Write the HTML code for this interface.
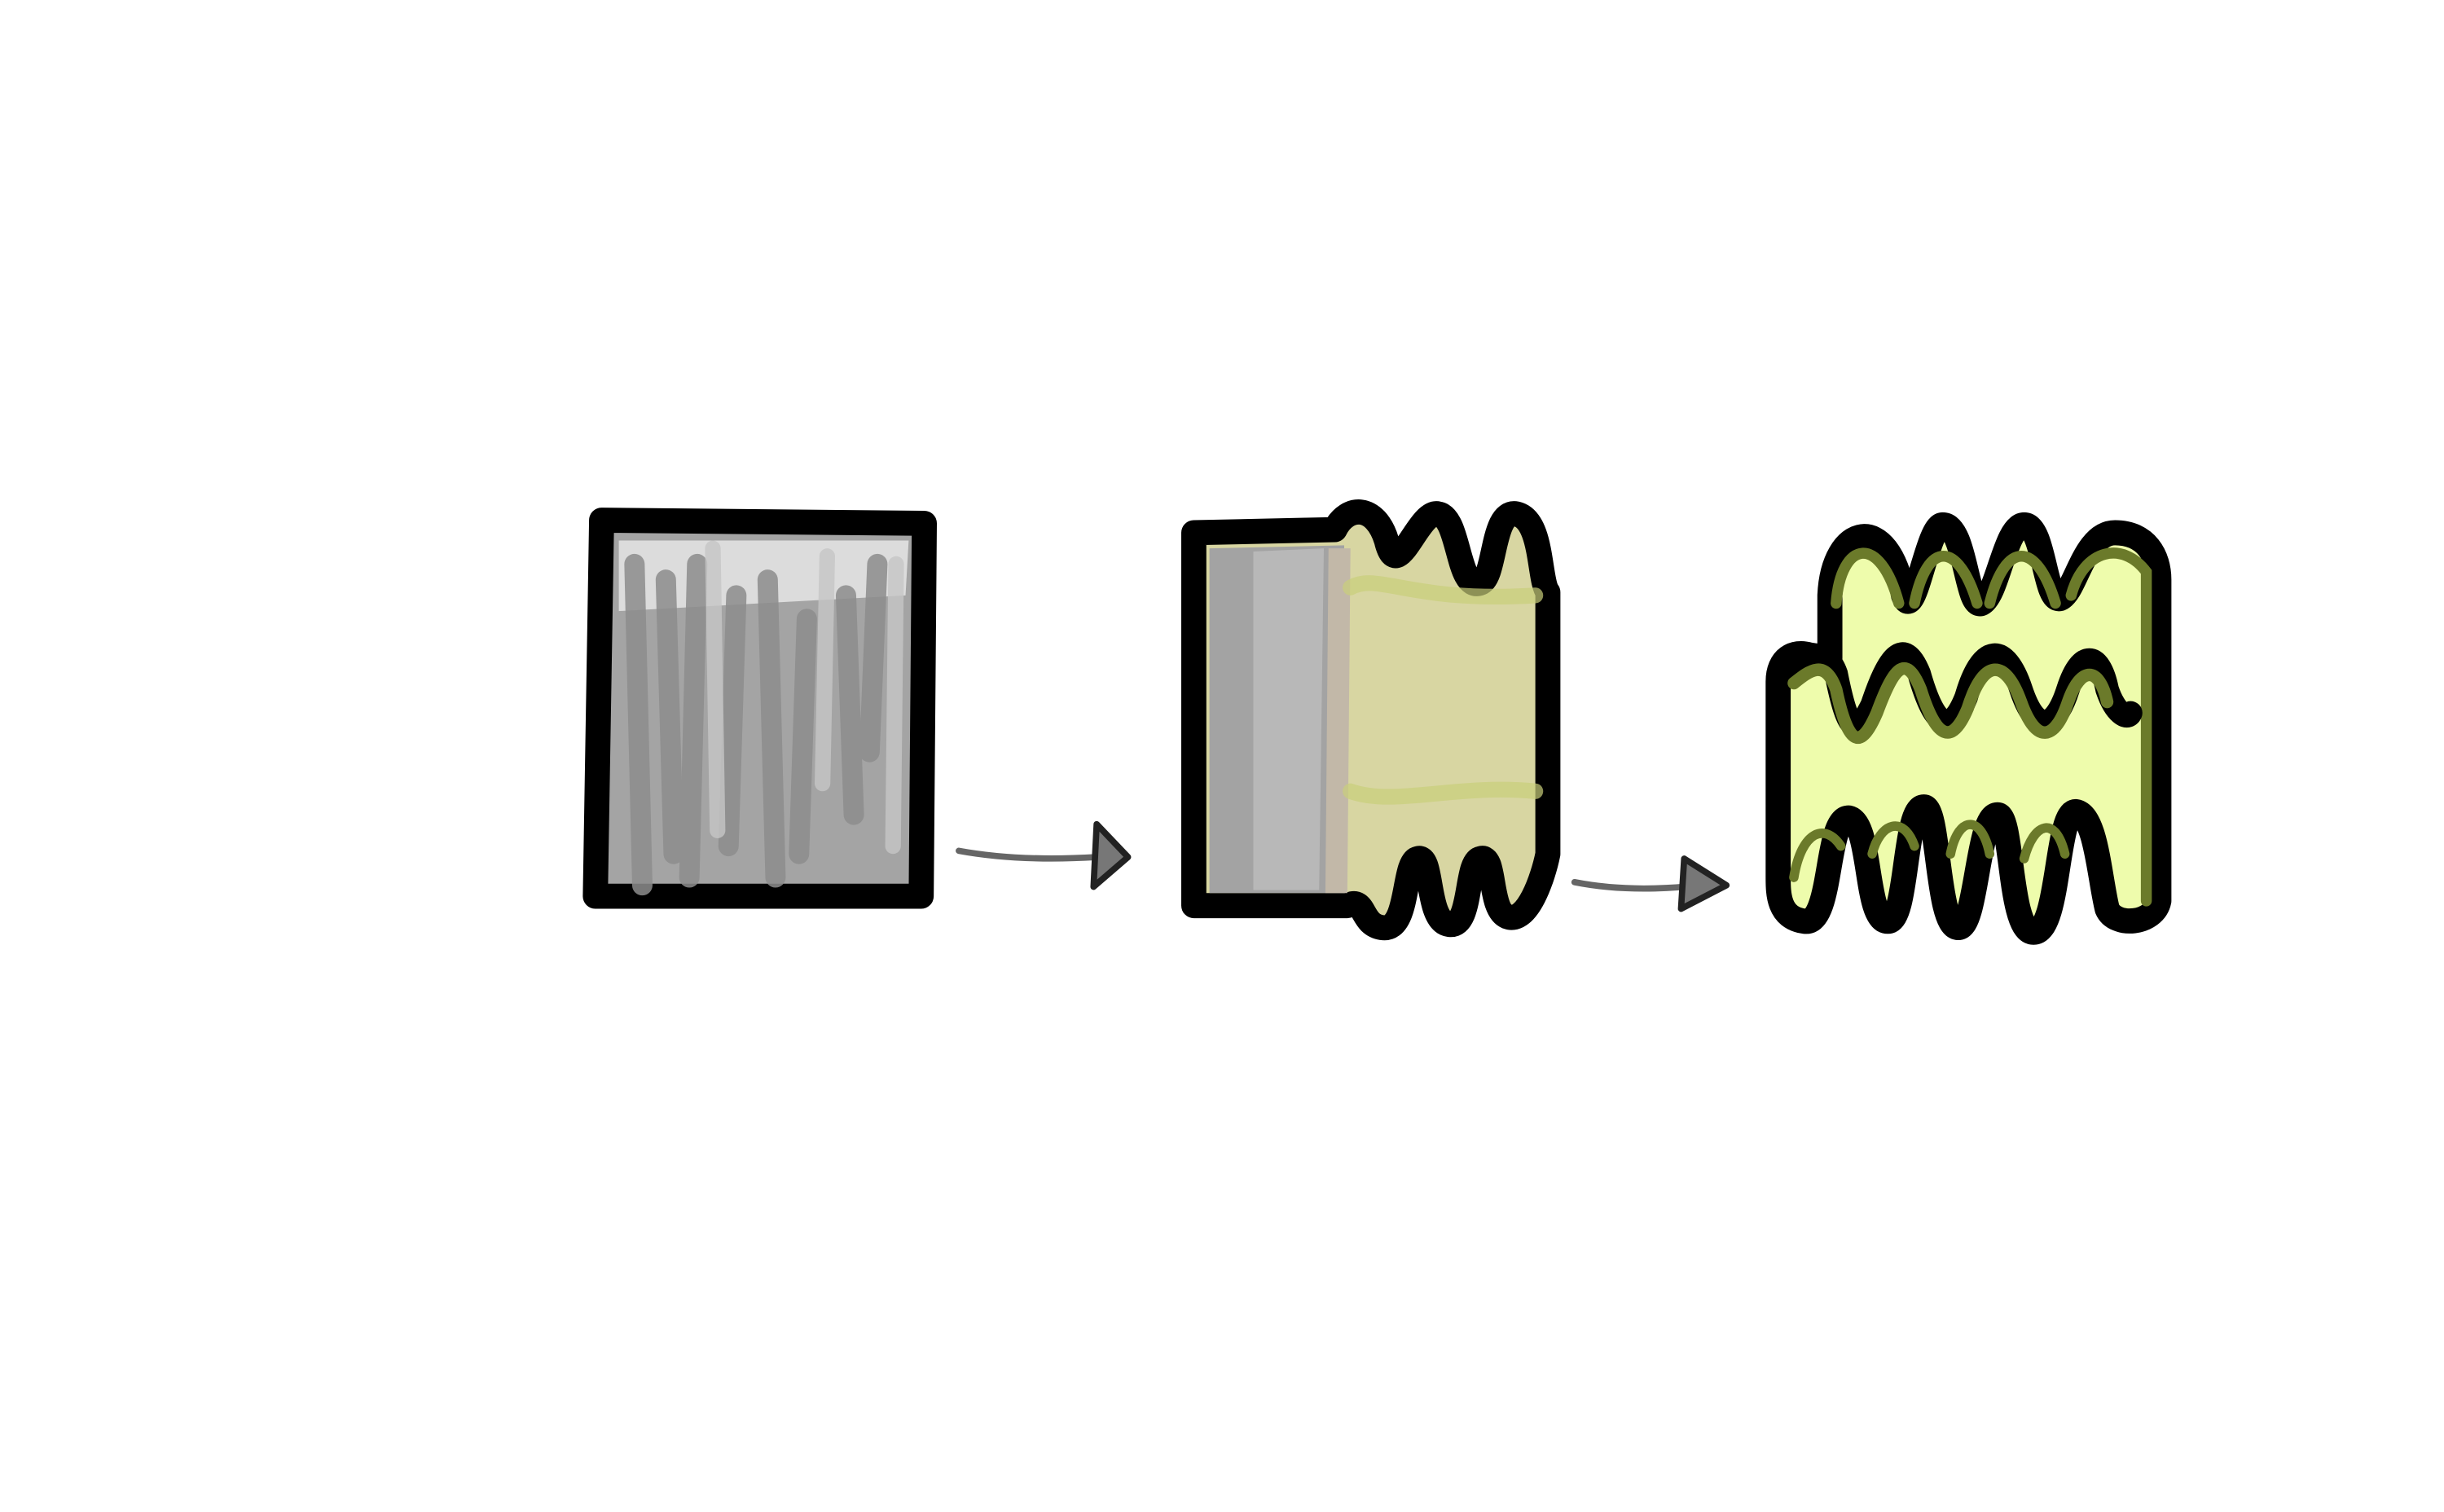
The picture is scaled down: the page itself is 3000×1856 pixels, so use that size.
<!DOCTYPE html>
<html><head><meta charset="utf-8"><style>
html,body{margin:0;padding:0;background:#fff;}
svg{display:block;}
</style></head><body>
<svg width="3000" height="1856" viewBox="0 0 1560 965" preserveAspectRatio="none" xmlns="http://www.w3.org/2000/svg">
<rect width="1560" height="965" fill="#fff"/>
<g>
  <path d="M384,332 L590,334 L588,572 L380,572 Z" fill="#a4a4a4" stroke="#000" stroke-width="16" stroke-linejoin="round"/>
  <path d="M395,345 L580,345 L578,380 L395,390 Z" fill="#dcdcdc"/>
  <g stroke="#8d8d8d" stroke-width="13" stroke-linecap="round" opacity="0.85">
    <path d="M405,360 L410,565"/><path d="M425,370 L430,545"/><path d="M445,360 L440,560"/>
    <path d="M470,380 L465,540"/><path d="M490,370 L495,560"/><path d="M515,395 L510,545"/>
    <path d="M540,380 L545,520"/><path d="M560,360 L555,480"/>
  </g>
  <g stroke="#c6c6c6" stroke-width="10" stroke-linecap="round" opacity="0.8">
    <path d="M455,350 L458,530"/><path d="M528,355 L525,500"/><path d="M572,360 L570,540"/>
  </g>
</g>
<g>
  <path d="M612,543 Q650,550 700,547" stroke="#666" stroke-width="4" fill="none" stroke-linecap="round"/>
  <path d="M700,526 L720,547 L698,566 Z" fill="#777" stroke="#222" stroke-width="4" stroke-linejoin="round"/>
</g>
<g>
  <path d="M762,340 L852,338 C860,322 878,322 885,345 C892,375 905,325 918,328 C932,330 930,378 945,372 C955,368 952,325 968,328 C985,332 982,370 988,378 L988,545 C985,560 975,590 962,585 C950,580 955,545 945,548 C935,550 940,592 925,590 C910,588 915,545 905,548 C895,550 900,595 882,592 C868,590 872,572 860,578 L762,578 Z" fill="#d8d6a2" stroke="#000" stroke-width="16" stroke-linejoin="round"/>
  <path d="M772,350 L858,348 L858,570 L772,570 Z" fill="#a3a3a3"/>
  <path d="M800,352 L845,350 L842,568 L800,568 Z" fill="#b8b8b8"/>
  <path d="M848,350 L862,350 L860,570 L846,570 Z" fill="#c2b8a8"/>
  <g stroke="#c9cf7a" stroke-width="10" fill="none" stroke-linecap="round" opacity="0.7">
    <path d="M862,375 C880,365 900,385 980,380"/><path d="M862,505 C890,515 930,500 980,505"/>
  </g>
</g>
<g>
  <path d="M1005,563 Q1040,570 1085,565" stroke="#666" stroke-width="4" fill="none" stroke-linecap="round"/>
  <path d="M1075,548 L1102,565 L1073,580 Z" fill="#777" stroke="#222" stroke-width="4" stroke-linejoin="round"/>
</g>
<g>
  <path d="M1168,380 C1170,335 1205,325 1215,380 C1222,400 1230,335 1240,335 C1255,335 1255,390 1265,385 C1275,380 1280,335 1292,335 C1305,335 1305,385 1315,382 C1325,378 1330,340 1350,340 C1370,340 1378,355 1378,370 L1378,575 C1375,590 1350,592 1345,580 C1340,560 1338,520 1325,518 C1312,518 1315,595 1298,595 C1282,595 1285,520 1275,520 C1262,520 1262,592 1250,592 C1236,592 1238,515 1228,515 C1215,515 1218,588 1205,588 C1190,588 1195,525 1180,522 C1165,522 1170,590 1152,588 C1135,586 1135,570 1135,560 L1135,435 C1135,420 1145,415 1155,418 L1168,420 Z" fill="#eefcac" stroke="#000" stroke-width="16" stroke-linejoin="round"/>
  <path d="M1172,385 C1175,345 1200,340 1212,385 M1222,385 C1230,345 1250,345 1262,385 M1270,385 C1280,345 1300,345 1312,385 M1322,380 C1330,350 1355,345 1370,365 L1370,575" stroke="#6b7a2a" stroke-width="7" fill="none" stroke-linecap="round"/>
  <path d="M1140,430 C1150,420 1165,410 1172,430 C1180,470 1185,470 1195,450 C1205,420 1215,405 1225,430 C1235,465 1245,470 1255,445 C1265,410 1280,410 1290,440 C1300,470 1312,465 1320,440 C1328,415 1340,415 1345,440 C1350,455 1358,460 1360,455" stroke="#000" stroke-width="15" fill="none" stroke-linecap="round"/>
  <path d="M1145,436 C1155,428 1165,420 1172,440 C1180,478 1188,478 1198,455 C1208,428 1216,415 1226,440 C1236,472 1246,476 1256,452 C1266,420 1280,420 1290,448 C1300,476 1312,472 1320,448 C1328,425 1340,425 1345,448" stroke="#6b7a2a" stroke-width="8" fill="none" stroke-linecap="round"/>
  <path d="M1145,560 C1150,530 1165,525 1175,540 M1195,545 C1200,525 1215,520 1222,540 M1245,545 C1250,520 1265,520 1270,545 M1292,548 C1298,525 1312,520 1318,545" stroke="#6b7a2a" stroke-width="6" fill="none" stroke-linecap="round"/>
</g>
</svg>
</body></html>
